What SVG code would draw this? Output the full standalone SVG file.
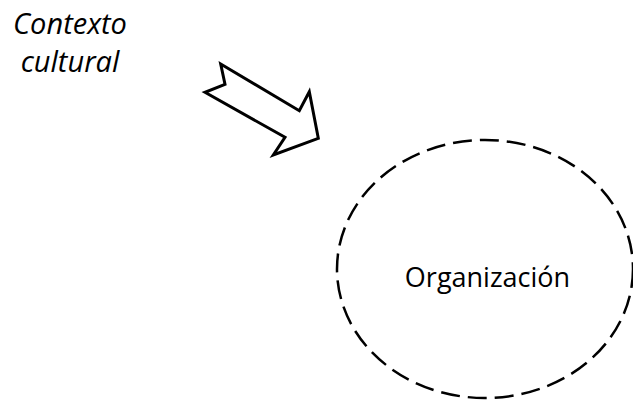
<svg xmlns="http://www.w3.org/2000/svg" width="633" height="402" viewBox="0 0 633 402">
  <style>
    .label { font-family: "Open Sans", "Liberation Sans", sans-serif; fill: #000; }
    .ctx { font-style: italic; font-size: 29px; }
    .org { font-size: 27px; }
  </style>
  <rect width="633" height="402" fill="#fff"/>
  <g id="contexto">
    <text class="label ctx" x="70" y="34" text-anchor="middle">Contexto</text>
    <text class="label ctx" x="70" y="72" text-anchor="middle">cultural</text>
  </g>
  <g id="connectors">
    <polygon points="220.7,64 299.3,110.7 309.3,91.7 318.3,138.3 273.3,155 285,137.3 205,92.3 225,84.3" fill="#fff" stroke="#000" stroke-width="3" stroke-linejoin="miter"/>
  </g>
  <g id="organizacion">
    <ellipse cx="485" cy="269" rx="148" ry="129" fill="none" stroke="#000" stroke-width="2.5" stroke-dasharray="19 8"/>
    <text class="label org" x="487.5" y="287" text-anchor="middle">Organización</text>
  </g>
</svg>
